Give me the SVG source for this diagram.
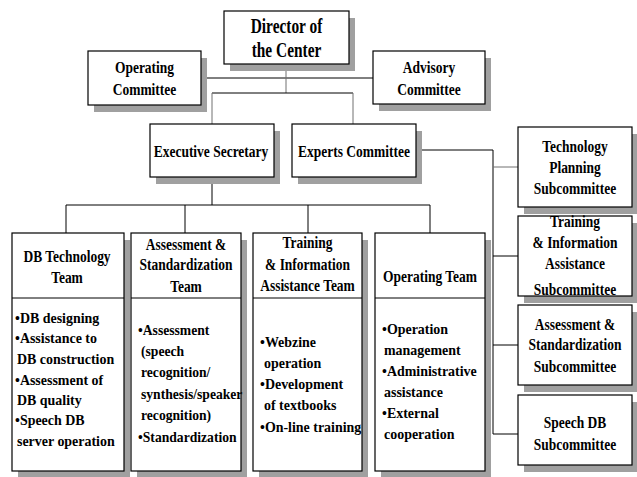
<svg xmlns="http://www.w3.org/2000/svg" width="637" height="477" viewBox="0 0 637 477">
<style>
.bx{fill:#fff;stroke:#000;stroke-width:1.2}
.sh{fill:#a0a0a0}
.h{font-family:"Liberation Serif",serif;font-weight:bold;font-size:17.5px;text-anchor:middle;fill:#000}
.d{font-size:20px}
.b{font-family:"Liberation Serif",serif;font-weight:bold;font-size:15.5px;fill:#000}
.c{stroke:#000;stroke-width:1;fill:none}
.cg{stroke:#707070;stroke-width:1;fill:none}
</style>
<rect width="637" height="477" fill="#fff"/>
<g id="connectors">
<path class="c" d="M201 78H373"/>
<path class="cg" d="M286 64V93"/>
<path class="c" d="M212 93H353"/>
<path class="cg" d="M212 93V124M353 93V124"/>
<path class="c" d="M212 177V205M66 205H430"/>
<path class="c" d="M66 205V233M185 205V233M308 205V233M430 205V233"/>
<path class="c" d="M416 150H493V434"/>
<path class="cg" d="M493 167H518"/>
<path class="c" d="M493 256H518M493 345H518M493 434H518"/>
</g>
<g id="director">
<rect class="sh" x="230" y="18" width="125" height="53"/>
<rect class="bx" x="224" y="11" width="125" height="53"/>
<text class="h d" transform="translate(286.5,33) scale(0.77,1)">Director of</text>
<text class="h d" transform="translate(286.5,57) scale(0.77,1)">the Center</text>
</g>
<g id="operating-committee">
<rect class="sh" x="94" y="58" width="113" height="54"/>
<rect class="bx" x="88" y="51" width="113" height="54"/>
<text class="h" transform="translate(144.5,73) scale(0.77,1)">Operating</text>
<text class="h" transform="translate(144.5,95) scale(0.77,1)">Committee</text>
</g>
<g id="advisory-committee">
<rect class="sh" x="379" y="58" width="112" height="53"/>
<rect class="bx" x="373" y="51" width="112" height="53"/>
<text class="h" transform="translate(429,73) scale(0.77,1)">Advisory</text>
<text class="h" transform="translate(429,95) scale(0.77,1)">Committee</text>
</g>
<g id="executive-secretary">
<rect class="sh" x="156" y="131" width="124" height="53"/>
<rect class="bx" x="150" y="124" width="124" height="53"/>
<text class="h" transform="translate(211,157) scale(0.77,1)">Executive Secretary</text>
</g>
<g id="experts-committee">
<rect class="sh" x="298" y="131" width="124" height="53"/>
<rect class="bx" x="292" y="124" width="124" height="53"/>
<text class="h" transform="translate(354,157) scale(0.77,1)">Experts Committee</text>
</g>
<g id="db-technology-team">
<rect class="sh" x="18" y="240" width="112" height="238"/>
<rect class="bx" x="12" y="233" width="112" height="238"/>
<path class="c" d="M12 298H124"/>
<text class="h" transform="translate(67,262) scale(0.77,1)">DB Technology</text>
<text class="h" transform="translate(67,283) scale(0.77,1)">Team</text>
<text class="b" transform="translate(15,323) scale(0.9,1)">•DB designing</text>
<text class="b" transform="translate(15,343) scale(0.9,1)">•Assistance to</text>
<text class="b" transform="translate(17,364) scale(0.9,1)">DB construction</text>
<text class="b" transform="translate(15,385) scale(0.9,1)">•Assessment of</text>
<text class="b" transform="translate(17,405) scale(0.9,1)">DB quality</text>
<text class="b" transform="translate(15,425) scale(0.9,1)">•Speech DB</text>
<text class="b" transform="translate(17,446) scale(0.9,1)">server operation</text>
</g>
<g id="assessment-team">
<rect class="sh" x="137" y="240" width="110" height="238"/>
<rect class="bx" x="131" y="233" width="110" height="238"/>
<path class="c" d="M131 298H241"/>
<text class="h" transform="translate(186,250) scale(0.77,1)">Assessment &amp;</text>
<text class="h" transform="translate(186,270) scale(0.77,1)">Standardization</text>
<text class="h" transform="translate(186,292) scale(0.77,1)">Team</text>
<text class="b" transform="translate(138,335) scale(0.88,1)">•Assessment</text>
<text class="b" transform="translate(141,356) scale(0.88,1)">(speech</text>
<text class="b" transform="translate(141,377) scale(0.88,1)">recognition/</text>
<text class="b" transform="translate(141,399) scale(0.88,1)">synthesis/speaker</text>
<text class="b" transform="translate(141,420) scale(0.88,1)">recognition)</text>
<text class="b" transform="translate(138,442) scale(0.88,1)">•Standardization</text>
</g>
<g id="training-team">
<rect class="sh" x="259" y="240" width="109" height="238"/>
<rect class="bx" x="253" y="233" width="109" height="238"/>
<path class="c" d="M253 298H362"/>
<text class="h" transform="translate(307.5,248) scale(0.77,1)">Training</text>
<text class="h" transform="translate(307.5,270) scale(0.77,1)">&amp; Information</text>
<text class="h" transform="translate(307.5,291) scale(0.77,1)">Assistance Team</text>
<text class="b" transform="translate(260,347) scale(0.9,1)">•Webzine</text>
<text class="b" transform="translate(264,368) scale(0.9,1)">operation</text>
<text class="b" transform="translate(260,389) scale(0.9,1)">•Development</text>
<text class="b" transform="translate(264,410) scale(0.9,1)">of textbooks</text>
<text class="b" transform="translate(260,432) scale(0.9,1)">•On-line training</text>
</g>
<g id="operating-team">
<rect class="sh" x="381" y="240" width="110" height="238"/>
<rect class="bx" x="375" y="233" width="110" height="238"/>
<path class="c" d="M375 298H485"/>
<text class="h" transform="translate(430,282) scale(0.77,1)">Operating Team</text>
<text class="b" transform="translate(382,334) scale(0.9,1)">•Operation</text>
<text class="b" transform="translate(384,355) scale(0.9,1)">management</text>
<text class="b" transform="translate(382,376) scale(0.9,1)">•Administrative</text>
<text class="b" transform="translate(384,397) scale(0.9,1)">assistance</text>
<text class="b" transform="translate(382,418) scale(0.9,1)">•External</text>
<text class="b" transform="translate(384,439) scale(0.9,1)">cooperation</text>
</g>
<g id="technology-planning-subcommittee">
<rect class="sh" x="524" y="134" width="114" height="80"/>
<rect class="bx" x="518" y="127" width="114" height="80"/>
<text class="h" transform="translate(575,152) scale(0.77,1)">Technology</text>
<text class="h" transform="translate(575,173) scale(0.77,1)">Planning</text>
<text class="h" transform="translate(575,194) scale(0.77,1)">Subcommittee</text>
</g>
<g id="training-subcommittee">
<rect class="sh" x="524" y="223" width="114" height="80"/>
<rect class="bx" x="518" y="216" width="114" height="80"/>
<text class="h" transform="translate(575,227) scale(0.77,1)">Training</text>
<text class="h" transform="translate(575,248) scale(0.77,1)">&amp; Information</text>
<text class="h" transform="translate(575,269) scale(0.77,1)">Assistance</text>
<text class="h" transform="translate(575,295) scale(0.77,1)">Subcommittee</text>
</g>
<g id="assessment-subcommittee">
<rect class="sh" x="524" y="312" width="114" height="80"/>
<rect class="bx" x="518" y="305" width="114" height="80"/>
<text class="h" transform="translate(575,330) scale(0.77,1)">Assessment &amp;</text>
<text class="h" transform="translate(575,350) scale(0.77,1)">Standardization</text>
<text class="h" transform="translate(575,372) scale(0.77,1)">Subcommittee</text>
</g>
<g id="speech-db-subcommittee">
<rect class="sh" x="524" y="402" width="114" height="70"/>
<rect class="bx" x="518" y="395" width="114" height="70"/>
<text class="h" transform="translate(575,428) scale(0.77,1)">Speech DB</text>
<text class="h" transform="translate(575,450) scale(0.77,1)">Subcommittee</text>
</g>
</svg>
